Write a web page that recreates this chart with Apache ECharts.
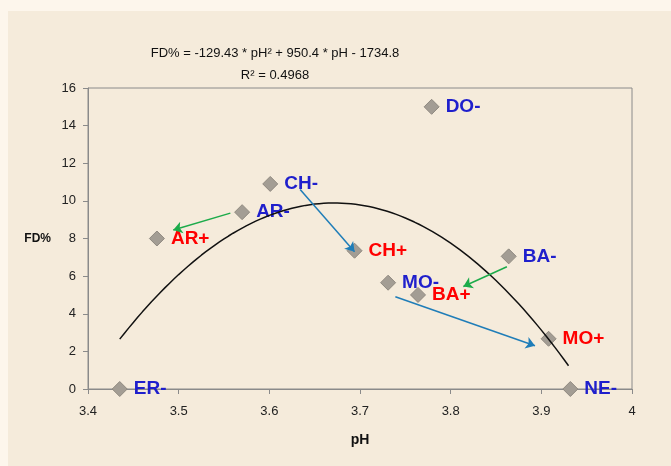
<!DOCTYPE html>
<html>
<head>
<meta charset="utf-8">
<script src="https://cdn.jsdelivr.net/npm/echarts@6/dist/echarts.min.js"></script>
<style>
  html, body { margin: 0; padding: 0; background: #fdf6ec; }
  #panel { position: absolute; left: 8px; top: 11px; width: 663px; height: 455px; background: #f5ebdb; }
  #chart { position: absolute; left: 0; top: 0; width: 671px; height: 466px; }
</style>
</head>
<body>
<div id="panel"></div>
<div id="chart"></div>
<script>
// 样本点
const names = ['DO-', 'CH-', 'AR-', 'AR+', 'CH+', 'MO-', 'BA+', 'BA-', 'MO+', 'NE-', 'ER-']
const phValues = [3.779, 3.601, 3.570, 3.476, 3.694, 3.731, 3.764, 3.864, 3.908, 3.932, 3.435]
const fdValues = [15.0, 10.9, 9.4, 8.0, 7.35, 5.65, 5.0, 7.05, 2.67, 0, 0]

// 趋势线系数 (图中公式)
const trendCoef = [-129.43, 950.4, -1734.8]
const trendRange = [3.435, 3.932]

// 箭头
const arrowFrom = [[3.557, 9.35], [3.634, 10.6], [3.862, 6.5], [3.739, 4.9]]
const arrowTo = [[3.494, 8.45], [3.694, 7.3], [3.814, 5.45], [3.893, 2.3]]
const arrowColor = ['#1cab4a', '#1f7db8', '#1cab4a', '#1f7db8']

const xTicks = [3.4, 3.5, 3.6, 3.7, 3.8, 3.9, 4]
const yTicks = [0, 2, 4, 6, 8, 10, 12, 14, 16]

const chart = echarts.init(document.getElementById('chart'))

const trend = []
for (let x = trendRange[0]; x <= trendRange[1] + 1e-9; x += 0.005) {
  trend.push([x, trendCoef[0] * x * x + trendCoef[1] * x + trendCoef[2]])
}

const points = names.map((n, i) => ({
  value: [phValues[i], fdValues[i]],
  label: { color: n.endsWith('+') ? '#ff0000' : '#1f1fcc' }
}))

const arrows = arrowFrom.map((a, i) => ({
  coords: [a, arrowTo[i]],
  lineStyle: { color: arrowColor[i] }
}))

chart.setOption({
  backgroundColor: 'transparent',
  animation: false,
  title: {
    text: 'FD% = -129.43 * pH² + 950.4 * pH - 1734.8\nR² = 0.4968',
    left: 270,
    top: 37,
    textAlign: 'center',
    textStyle: { fontFamily: 'Liberation Sans', fontSize: 13, fontWeight: 'normal', color: '#111', lineHeight: 22 }
  },
  grid: { left: 88, right: 39, top: 88, bottom: 77, show: true, borderColor: '#8a8a8a', borderWidth: 1 },
  xAxis: {
    type: 'value',
    min: 3.4,
    max: 4,
    interval: 0.1,
    name: 'pH',
    nameLocation: 'middle',
    nameGap: 44,
    nameTextStyle: { fontFamily: 'Liberation Sans', fontSize: 14, fontWeight: 'bold', color: '#111' },
    splitLine: { show: false },
    axisLine: { lineStyle: { color: '#8a8a8a' } },
    axisTick: { length: 5, lineStyle: { color: '#8a8a8a' } },
    axisLabel: {
      margin: 16,
      fontFamily: 'Liberation Sans',
      fontSize: 13,
      color: '#222',
      formatter: v => xTicks.find(t => Math.abs(t - v) < 1e-6) !== undefined ? String(+v.toFixed(1)) : ''
    }
  },
  yAxis: {
    type: 'value',
    min: 0,
    max: 16,
    interval: 2,
    name: 'FD%',
    nameLocation: 'middle',
    nameRotate: 0,
    nameGap: 37,
    nameTextStyle: { fontFamily: 'Liberation Sans', fontSize: 12, fontWeight: 'bold', color: '#111' },
    splitLine: { show: false },
    axisLine: { show: true, lineStyle: { color: '#8a8a8a' } },
    axisTick: { show: true, length: 5, lineStyle: { color: '#8a8a8a' } },
    axisLabel: {
      margin: 12,
      fontFamily: 'Liberation Sans',
      fontSize: 13,
      color: '#222',
      formatter: v => yTicks.includes(v) ? String(v) : ''
    }
  },
  series: [
    {
      type: 'scatter',
      symbol: 'diamond',
      symbolSize: 15,
      itemStyle: { color: '#a39d94', borderColor: '#8e887f', borderWidth: 1, opacity: 1 },
      label: {
        show: true,
        position: 'right',
        distance: 6,
        fontFamily: 'Liberation Sans',
        fontSize: 19,
        fontWeight: 'bold',
        formatter: p => names[p.dataIndex]
      },
      data: points,
      z: 2
    },
    {
      type: 'line',
      data: trend,
      showSymbol: false,
      smooth: false,
      lineStyle: { color: '#111', width: 1.5 },
      z: 3
    },
    {
      type: 'lines',
      coordinateSystem: 'cartesian2d',
      symbol: ['none', 'arrow'],
      symbolSize: 9,
      lineStyle: { width: 1.5, opacity: 1 },
      data: arrows,
      z: 4
    }
  ]
})
</script>
</body>
</html>
